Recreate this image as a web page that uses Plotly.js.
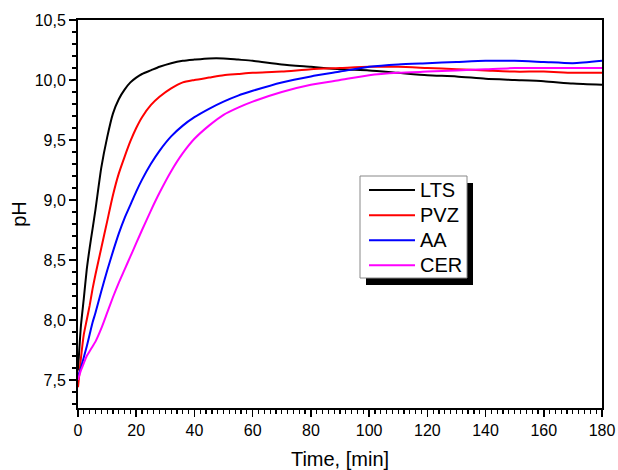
<!DOCTYPE html>
<html>
<head>
<meta charset="utf-8">
<script src="https://cdn.plot.ly/plotly-3.0.1.min.js"></script>
<style>html,body{margin:0;padding:0;background:#fff;}#chart{width:618px;height:470px;}</style>
</head>
<body>
<div id="chart"></div>
<script>
// Time, [min]
var time = [0,1,2,3,4,5,6,8,10,12,14,16,18,20,22,25,28,32,36,40,45,50,55,60,70,80,90,100,110,120,130,140,150,160,170,180];
var seriesNames = ['LTS','PVZ','AA','CER'];
var seriesColors = ['#000000','#ff0000','#0000ff','#ff00ff'];
var lts = [7.58,7.95,8.18,8.42,8.6,8.76,8.92,9.27,9.52,9.72,9.84,9.92,9.98,10.02,10.05,10.08,10.11,10.14,10.16,10.17,10.18,10.18,10.17,10.16,10.13,10.11,10.09,10.08,10.06,10.04,10.03,10.01,10.0,9.99,9.97,9.96];
var pvz = [7.44,7.68,7.88,8.0,8.12,8.26,8.38,8.6,8.82,9.04,9.22,9.36,9.49,9.6,9.69,9.79,9.86,9.93,9.98,10.0,10.02,10.04,10.05,10.06,10.07,10.09,10.1,10.11,10.11,10.1,10.09,10.08,10.07,10.07,10.06,10.06];
var aa = [7.53,7.6,7.69,7.78,7.88,7.98,8.06,8.24,8.41,8.57,8.72,8.85,8.96,9.07,9.17,9.3,9.41,9.53,9.62,9.69,9.76,9.82,9.87,9.91,9.98,10.03,10.07,10.11,10.13,10.14,10.15,10.16,10.16,10.15,10.14,10.16];
var cer = [7.5,7.58,7.64,7.7,7.74,7.78,7.82,7.93,8.06,8.19,8.31,8.42,8.53,8.64,8.75,8.91,9.06,9.24,9.39,9.51,9.62,9.71,9.77,9.82,9.9,9.96,10.0,10.04,10.06,10.07,10.08,10.09,10.1,10.1,10.1,10.1];
var allSeries = [lts,pvz,aa,cer];

var font = "Arial, 'Liberation Sans', sans-serif";
var traces = allSeries.map(function(ys,i){
  return {x: time, y: ys, type:'scatter', mode:'lines',
    name: '<span style="font-size:20px">' + seriesNames[i] + '</span>',
    line:{color: seriesColors[i], width:2, shape:'spline', smoothing:0.6}};
});

// paper coordinate helpers for legend frame (plot area 78..602 x 20..408)
function px(x){return (x-78)/524;}
function py(y){return (408-y)/388;}

var layout = {
  width:618, height:470,
  margin:{l:78, r:16, t:20, b:62, pad:0},
  paper_bgcolor:'#fff', plot_bgcolor:'#fff',
  separators:', ',
  font:{family:font, color:'#000', size:16},
  showlegend:true,
  legend:{x:px(364), y:py(172.5), xanchor:'left', yanchor:'top', bgcolor:'rgba(0,0,0,0)', borderwidth:0,
    font:{family:font, size:17, color:'#000'}, itemwidth:46, tracegroupgap:0},
  xaxis:{range:[0,180], dtick:20, tick0:0, tickformat:'d', ticks:'outside', ticklen:7, tickwidth:1.5, tickcolor:'#000',
    minor:{dtick:2, ticklen:4, tickwidth:1.2, tickcolor:'#000', ticks:'outside'},
    showline:true, linewidth:2, linecolor:'#000', mirror:true, showgrid:false, zeroline:false,
    tickfont:{family:font, size:16, color:'#000'},
    title:{text:'Time, [min]', font:{family:font, size:20, color:'#000'}, standoff:15}},
  yaxis:{range:[7.267,10.5], dtick:0.5, tick0:0, tickformat:'.1f', ticks:'outside', ticklen:7, tickwidth:1.5, tickcolor:'#000',
    minor:{dtick:0.1, ticklen:4, tickwidth:1.2, tickcolor:'#000', ticks:'outside'},
    showline:true, linewidth:2, linecolor:'#000', mirror:true, showgrid:false, zeroline:false,
    tickfont:{family:font, size:16, color:'#000'},
    title:{text:'pH', font:{family:font, size:20, color:'#000'}, standoff:3}},
  shapes:[
    {type:'rect', xref:'paper', yref:'paper', x0:px(366), x1:px(473), y0:py(285), y1:py(183), fillcolor:'#000', line:{width:0}, layer:'above'},
    {type:'rect', xref:'paper', yref:'paper', x0:px(360), x1:px(467), y0:py(278), y1:py(176), fillcolor:'#fff', line:{color:'#888', width:1}, layer:'above'}
  ]
};
Plotly.newPlot('chart', traces, layout, {displayModeBar:false, staticPlot:true});
</script>
</body>
</html>
